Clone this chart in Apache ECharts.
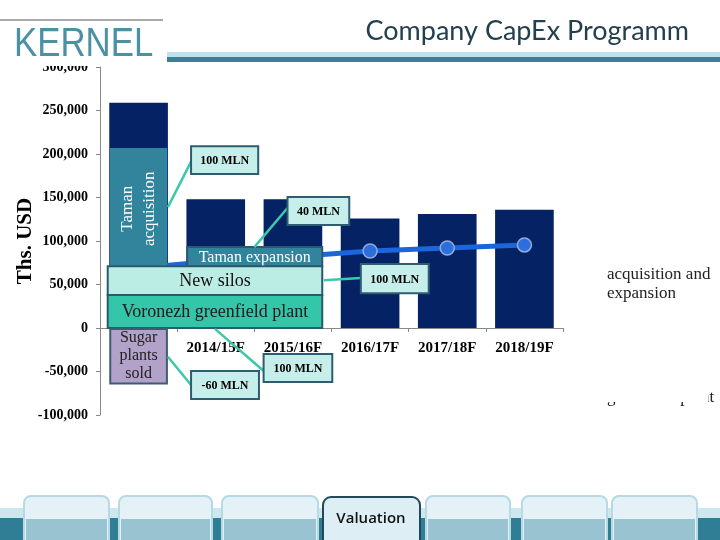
<!DOCTYPE html>
<html>
<head>
<meta charset="utf-8">
<script src="https://cdn.jsdelivr.net/npm/echarts@6/dist/echarts.min.js"></script>
<style>
  body { margin: 0; background: #fff; }
  #chart { width: 720px; height: 540px; }
</style>
</head>
<body>
<div id="chart"></div>
<script>
// chart data
const categories = ['2013/14F', '2014/15F', '2015/16F', '2016/17F', '2017/18F', '2018/19F'];
const capexTotal = [259000, 148000, 148000, 126000, 131000, 136000];
const sugarSold = [-65000, null, null, null, null, null];
const trendLine = [69000, 77000, 82000, 88500, 92000, 95500];
const yMin = -100000, yMax = 300000, yStep = 50000;

// project blocks (x in category units, 0..6)
const blockNames = ['Taman\nacquisition', 'Taman expansion', 'New silos', 'Voronezh greenfield plant'];
const blockFrom = [0.13, 1.13, 0.10, 0.10];
const blockTo = [0.87, 2.88, 2.88, 2.88];
const blockLow = [71000, 71000, 38000, 0];
const blockHigh = [207000, 93000, 71000, 38000];

// callouts
const calloutText = ['100 MLN', '40 MLN', '100 MLN', '100 MLN', '-60 MLN'];
const calloutFromX = [0.88, 2.0, 2.9, 1.49, 0.88];
const calloutFromY = [139000, 93000, 55000, -1000, -33000];
const calloutToX = [1.19, 2.43, 3.38, 2.13, 1.18];
const calloutToY = [193000, 138000, 57500, -50000, -65500];
const boxLeft = [1.18, 2.43, 3.38, 2.12, 1.18];
const boxRight = [2.05, 3.23, 4.26, 3.01, 2.06];
const boxTop = [209000, 150500, 73500, -30000, -49500];
const boxBottom = [177000, 118500, 40000, -62000, -81500];

const serif = 'Liberation Serif';

let chartDom = document.getElementById('chart');
let myChart = echarts.init(chartDom);

function blockItem(params, api) {
  let i = params.dataIndex;
  let p0 = api.coord([api.value(0), api.value(3)]);
  let p1 = api.coord([api.value(1), api.value(2)]);
  let fills = ['#31849B', '#31849B', '#BCEDE5', '#33C6A8'];
  let textColors = ['#fff', '#fff', '#111', '#1a1a1a'];
  let sizes = [17, 16, 18, 18];
  let rect = {
    type: 'rect',
    shape: { x: p0[0], y: p0[1], width: p1[0] - p0[0], height: p1[1] - p0[1] },
    style: { fill: fills[i], stroke: i === 0 ? null : '#2B5A6E', lineWidth: i === 0 ? 0 : 2 }
  };
  let cx = (p0[0] + p1[0]) / 2;
  let cy = (p0[1] + p1[1]) / 2;
  let text;
  if (i === 0) {
    let c = api.coord([api.value(0), 137000]);
    text = {
      type: 'text', x: cx, y: c[1], rotation: Math.PI / 2,
      style: { text: blockNames[i], x: 0, y: 0, align: 'center', verticalAlign: 'middle',
        fill: textColors[i], fontSize: sizes[i], fontFamily: serif, lineHeight: 22 }
    };
  } else {
    text = {
      type: 'text',
      style: { text: blockNames[i], x: cx, y: cy + 1, align: 'center', verticalAlign: 'middle',
        fill: textColors[i], fontSize: sizes[i], fontFamily: serif }
    };
  }
  return { type: 'group', children: [rect, text] };
}

function calloutItem(params, api) {
  let i = params.dataIndex;
  let a = api.coord([api.value(0), api.value(1)]);
  let b = api.coord([api.value(2), api.value(3)]);
  let p0 = api.coord([api.value(4), api.value(6)]);
  let p1 = api.coord([api.value(5), api.value(7)]);
  return {
    type: 'group',
    children: [
      { type: 'line', shape: { x1: a[0], y1: a[1], x2: b[0], y2: b[1] },
        style: { stroke: '#3CC9A8', lineWidth: 2.5 } },
      { type: 'rect', shape: { x: p0[0], y: p0[1], width: p1[0] - p0[0], height: p1[1] - p0[1] },
        style: { fill: '#C6EEEA', stroke: '#2E5D71', lineWidth: 2 } },
      { type: 'text', style: { text: calloutText[i], x: (p0[0] + p1[0]) / 2, y: (p0[1] + p1[1]) / 2 + 1,
        align: 'center', verticalAlign: 'middle', fill: '#000', fontSize: 12,
        fontWeight: 'bold', fontFamily: serif } }
    ]
  };
}

// slide decoration
const tabs = [[24, 109], [119, 212], [222, 318], [426, 510], [522, 607], [612, 697]];
let decor = [
  { type: 'line', shape: { x1: 0, y1: 20, x2: 163, y2: 20 }, style: { stroke: '#555', lineWidth: 1 }, z: 10 },
  { type: 'rect', shape: { x: 0, y: 22, width: 165, height: 44 }, style: { fill: '#fff' }, z: 10 },
  { type: 'text', x: 14, y: 45, scaleX: 0.87, style: { text: 'KERNEL', fill: '#4B90A3', fontSize: 40,
    fontFamily: 'Liberation Sans', verticalAlign: 'middle' }, z: 11 },
  { type: 'rect', shape: { x: 167, y: 52, width: 553, height: 5 }, style: { fill: '#BDE2EE' }, z: 10 },
  { type: 'rect', shape: { x: 167, y: 57, width: 553, height: 5 }, style: { fill: '#3F7E97' }, z: 10 },
  { type: 'text', x: 689, y: 31, style: { text: 'Company CapEx Programm', fill: '#24404F', fontSize: 27,
    fontFamily: 'Lato', align: 'right', verticalAlign: 'middle' }, z: 10 },
  { type: 'text', x: 607, y: 265, style: { text: 'acquisition and\nexpansion', fill: '#222', fontSize: 17,
    fontFamily: serif, lineHeight: 19 }, z: 10 },
  { type: 'text', x: 607, y: 398, style: { text: 'greenfield plant', fill: '#222', fontSize: 17,
    fontFamily: serif, verticalAlign: 'middle' }, z: 10 },
  { type: 'rect', shape: { x: 600, y: 380, width: 108, height: 22 }, style: { fill: '#fff' }, z: 11 },
  { type: 'rect', shape: { x: 0, y: 508, width: 720, height: 10 }, style: { fill: '#CDE7EF' }, z: 10 },
  { type: 'rect', shape: { x: 0, y: 518, width: 720, height: 22 }, style: { fill: '#2F7E95' }, z: 10 }
];
tabs.forEach(function (t) {
  decor.push({ type: 'rect', shape: { x: t[0], y: 496, width: t[1] - t[0], height: 50, r: 7 },
    style: { fill: '#E4F2F7', stroke: '#B5DAE6', lineWidth: 2 }, z: 11 });
  decor.push({ type: 'rect', shape: { x: t[0] + 2, y: 519, width: t[1] - t[0] - 4, height: 21 },
    style: { fill: '#99C3D0' }, z: 12 });
});
decor.push({ type: 'rect', shape: { x: 323, y: 497, width: 97, height: 50, r: 8 },
  style: { fill: '#DDEFF5', stroke: '#22495A', lineWidth: 2 }, z: 13 });
decor.push({ type: 'text', x: 371, y: 519, style: { text: 'Valuation', fill: '#111', fontSize: 15,
  fontWeight: 600, fontFamily: 'Open Sans', align: 'center', verticalAlign: 'middle' }, z: 14 });

let option = {
  animation: false,
  backgroundColor: '#fff',
  grid: { left: 100, right: 157, top: 67, bottom: 125, containLabel: false, outerBoundsMode: 'none' },
  xAxis: [
    {
      type: 'category',
      data: categories,
      offset: -87,
      axisLine: { onZero: false, lineStyle: { color: '#888', width: 1 } },
      axisTick: { show: true, length: 4, lineStyle: { color: '#888' } },
      axisLabel: { color: '#000', fontFamily: serif, fontWeight: 'bold', fontSize: 15, margin: 13 }
    },
    { type: 'value', min: 0, max: 6, show: false }
  ],
  yAxis: {
    type: 'value',
    min: yMin, max: yMax, interval: yStep,
    name: 'Ths. USD',
    nameLocation: 'middle',
    nameGap: 64,
    nameMoveOverlap: false,
    nameTextStyle: { color: '#000', fontFamily: serif, fontWeight: 'bold', fontSize: 21 },
    splitLine: { show: false },
    axisLine: { show: true, lineStyle: { color: '#888', width: 1 } },
    axisTick: { show: true, length: 4, lineStyle: { color: '#888' } },
    axisLabel: {
      color: '#000', fontFamily: serif, fontWeight: 'bold', fontSize: 14, margin: 12,
      formatter: function (v) { return v.toLocaleString('en-US'); }
    }
  },
  series: [
    {
      name: 'CapEx',
      type: 'bar',
      data: capexTotal,
      barCategoryGap: '24%',
      barGap: '-100%',
      itemStyle: { color: '#042264' },
      z: 2
    },
    {
      name: 'Trend',
      type: 'line',
      data: trendLine,
      symbol: 'circle',
      symbolSize: 14,
      lineStyle: { color: '#1B66DA', width: 5 },
      itemStyle: { color: '#2C6FDC', borderColor: '#93ABD9', borderWidth: 1.5 },
      z: 3
    },
    {
      name: 'Projects',
      type: 'custom',
      xAxisIndex: 1,
      encode: { x: [0, 1], y: [2, 3] },
      data: blockFrom.map(function (v, i) { return [blockFrom[i], blockTo[i], blockLow[i], blockHigh[i]]; }),
      renderItem: blockItem,
      z: 4
    },
    {
      name: 'Sugar plants sold',
      type: 'bar',
      data: sugarSold,
      barCategoryGap: '24%',
      barGap: '-100%',
      itemStyle: { color: '#B2A1C8', borderColor: '#3C5D70', borderWidth: 2 },
      label: {
        show: true, position: 'inside', formatter: 'Sugar\nplants\nsold',
        color: '#222', fontFamily: serif, fontSize: 16, lineHeight: 18
      },
      z: 4
    },
    {
      name: 'Callouts',
      type: 'custom',
      xAxisIndex: 1,
      encode: { x: [0, 2, 4, 5], y: [1, 3, 6, 7] },
      data: calloutText.map(function (t, i) {
        return [calloutFromX[i], calloutFromY[i], calloutToX[i], calloutToY[i],
          boxLeft[i], boxRight[i], boxTop[i], boxBottom[i]];
      }),
      renderItem: calloutItem,
      z: 6
    }
  ],
  graphic: decor
};
myChart.setOption(option);
</script>
</body>
</html>
